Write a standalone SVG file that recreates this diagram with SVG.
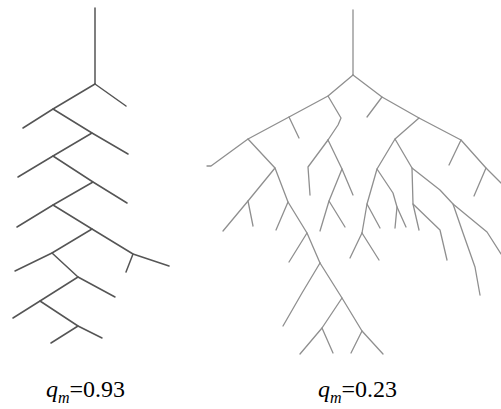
<svg xmlns="http://www.w3.org/2000/svg" width="501" height="409" viewBox="0 0 501 409">
<style>
.t1 { fill: none; stroke: #555555; stroke-width: 1.5; stroke-linejoin: round; stroke-linecap: round; }
.t2 { fill: none; stroke: #8f8f8f; stroke-width: 1.3; stroke-linejoin: round; stroke-linecap: round; }
.lbl { font-size: 24px; fill: #000; }
.it { font-style: italic; }
</style>
<rect width="501" height="409" fill="#fff"/>
<g id="tree-left" class="t1">
<polyline points="95,8 95,84"/>
<polyline points="95,84 126,106"/>
<polyline points="95,84 53,109 23,128"/>
<polyline points="53,109 92,133 128,154"/>
<polyline points="92,133 53,156 18,177"/>
<polyline points="53,156 93,182 127,203"/>
<polyline points="93,182 53,205 17,227"/>
<polyline points="53,205 92,229 133,254 169,266"/>
<polyline points="133,254 126,272"/>
<polyline points="92,229 52,253 15,271"/>
<polyline points="52,253 78,277 115,297"/>
<polyline points="78,277 40,301 13,318"/>
<polyline points="40,301 78,326 102,338"/>
<polyline points="78,326 51,343"/>
</g>
<g id="tree-right" class="t2">
<polyline points="353,10 353,75"/>
<polyline points="353,75 328,96 289,117 248,139 211,166 207,166"/>
<polyline points="289,117 299,138"/>
<polyline points="248,139 275,168 248,201 223,231"/>
<polyline points="248,201 253,226"/>
<polyline points="275,168 288,202 276,230"/>
<polyline points="288,202 307,233 320,263"/>
<polyline points="307,233 289,262"/>
<polyline points="320,263 302,293 283,326"/>
<polyline points="320,263 342,298 362,331 383,354"/>
<polyline points="342,298 322,328 300,354"/>
<polyline points="322,328 333,353"/>
<polyline points="362,331 351,353"/>
<polyline points="328,96 341,118 338,125 328,140"/>
<polyline points="328,140 308,167 310,195"/>
<polyline points="328,140 342,169 329,201 320,231"/>
<polyline points="329,201 345,227"/>
<polyline points="342,169 353,195"/>
<polyline points="353,75 382,97 419,118 461,140 486,168 501,183"/>
<polyline points="382,97 367,117"/>
<polyline points="461,140 449,165"/>
<polyline points="486,168 474,196"/>
<polyline points="419,118 395,139 377,169 367,204 362,233"/>
<polyline points="367,204 380,228"/>
<polyline points="362,233 350,258"/>
<polyline points="362,233 379,260"/>
<polyline points="377,169 393,193 397,207 395,228"/>
<polyline points="397,207 406,227"/>
<polyline points="395,139 412,168 413,204 419,230"/>
<polyline points="413,204 440,230 447,260"/>
<polyline points="412,168 440,190 453,204 487,232 501,254"/>
<polyline points="453,204 463,233 475,267 480,295"/>
</g>
<g id="labels" font-family="'Liberation Serif', 'DejaVu Serif', serif">
<text class="lbl" x="46" y="397"><tspan class="it">q</tspan><tspan class="it" font-size="16" dy="6">m</tspan><tspan dy="-6">=0.93</tspan></text>
<text class="lbl" x="318" y="397"><tspan class="it">q</tspan><tspan class="it" font-size="16" dy="6">m</tspan><tspan dy="-6">=0.23</tspan></text>
</g>
</svg>
